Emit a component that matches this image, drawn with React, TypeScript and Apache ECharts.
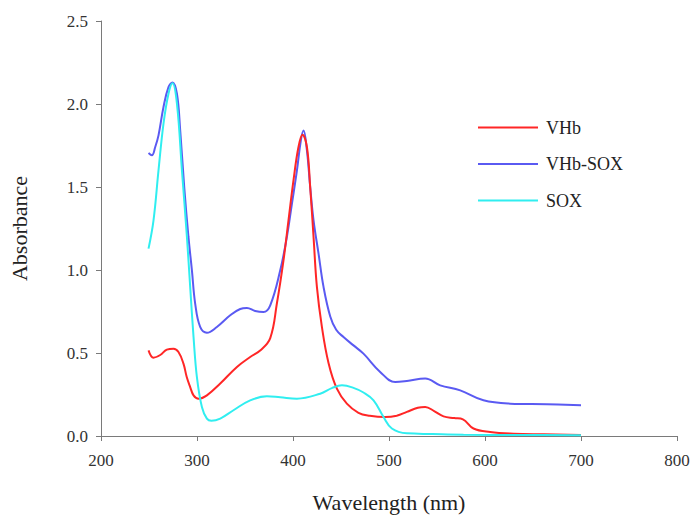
import React, { useEffect, useRef } from "react";
import * as echarts from "echarts";

const xTicks = [200, 300, 400, 500, 600, 700, 800];
const yTicks = [0, 0.5, 1.0, 1.5, 2.0, 2.5];
const seriesNames = ["VHb", "VHb-SOX", "SOX"];

const vhbNm = [249.5, 254.7, 261.7, 268.6, 275.5, 280.7, 285.9, 289.3, 292.9, 296.4, 301.6, 310.3, 324.2, 341.6, 355.4, 365.8, 376.3, 383.2, 390.1, 395.3, 400.5, 405.7, 409.9, 414.5, 417.9, 421.4, 424.9, 430.1, 437, 445.7, 456.1, 468.2, 480, 496, 508, 518.6, 530, 537.7, 547, 556.8, 568, 577, 588, 605.4, 629.7, 661, 700];
const vhbAbs = [0.516, 0.472, 0.488, 0.52, 0.526, 0.506, 0.436, 0.355, 0.295, 0.245, 0.225, 0.245, 0.316, 0.416, 0.476, 0.515, 0.59, 0.798, 1.058, 1.299, 1.54, 1.741, 1.815, 1.741, 1.5, 1.199, 0.898, 0.657, 0.44, 0.285, 0.195, 0.14, 0.122, 0.114, 0.122, 0.145, 0.17, 0.175, 0.15, 0.118, 0.108, 0.1, 0.045, 0.024, 0.014, 0.01, 0.006];

const vhbSoxNm = [249.5, 253, 256.5, 259.9, 265.1, 270.3, 274.5, 279.1, 282.5, 286.7, 291.1, 294.7, 298.1, 303.3, 310.3, 320.7, 334.6, 345, 352, 360.6, 369.3, 376.3, 386.7, 393.6, 398.9, 404.1, 408.2, 411, 414.5, 417.9, 421.4, 426.6, 431.8, 438.8, 445, 452.6, 463, 473.4, 490.8, 506.5, 518.6, 537.7, 553.3, 574.2, 598.4, 626.3, 664.5, 700];
const vhbSoxAbs = [1.705, 1.691, 1.741, 1.811, 1.982, 2.102, 2.13, 2.062, 1.842, 1.5, 1.199, 0.998, 0.798, 0.657, 0.622, 0.657, 0.727, 0.765, 0.771, 0.753, 0.747, 0.787, 0.998, 1.199, 1.4, 1.6, 1.781, 1.84, 1.72, 1.5, 1.299, 1.099, 0.898, 0.72, 0.64, 0.596, 0.546, 0.496, 0.386, 0.325, 0.331, 0.346, 0.305, 0.275, 0.215, 0.195, 0.191, 0.185];

const soxNm = [249.5, 254.7, 259.9, 265.1, 270.3, 274.5, 279.1, 284.3, 289.5, 292.9, 296.4, 299.9, 305.1, 310.3, 315, 324.2, 338, 355.4, 372.8, 386.7, 404.1, 428.3, 441, 451, 463, 473.4, 483.9, 494.3, 503, 518.6, 545, 577.6, 640, 700];
const soxAbs = [1.129, 1.299, 1.6, 1.882, 2.062, 2.125, 2.002, 1.6, 1.199, 0.898, 0.596, 0.355, 0.175, 0.105, 0.092, 0.105, 0.155, 0.215, 0.239, 0.233, 0.225, 0.255, 0.29, 0.305, 0.29, 0.262, 0.215, 0.114, 0.045, 0.016, 0.012, 0.008, 0.006, 0.004];

const colors = ["#ff2626", "#5a5af2", "#30eef0"];

const zip = (xs: number[], ys: number[]) => xs.map((x, i) => [x, ys[i]]);

export default function App() {
  const ref = useRef<HTMLDivElement>(null);
  useEffect(() => {
    if (!ref.current) return;
    const chart = echarts.init(ref.current, null, { renderer: "svg" });
    const font = "serif";
    const dataSets = [zip(vhbNm, vhbAbs), zip(vhbSoxNm, vhbSoxAbs), zip(soxNm, soxAbs)];
    chart.setOption({
      animation: false,
      backgroundColor: "#ffffff",
      textStyle: { fontFamily: font },
      grid: { left: 101, right: 15, top: 21, bottom: 79, containLabel: false, outerBoundsMode: "none" },
      legend: {
        orient: "vertical",
        left: 473,
        top: 113.5,
        icon: "rect",
        itemWidth: 60,
        itemHeight: 2,
        itemGap: 18.5,
        data: seriesNames,
        textStyle: { fontFamily: font, fontSize: 18, color: "#222", padding: [0, 0, 0, 3] },
      },
      xAxis: {
        type: "value",
        min: xTicks[0],
        max: xTicks[xTicks.length - 1],
        interval: 100,
        name: "Wavelength (nm)",
        nameLocation: "middle",
        nameGap: 55,
        nameTextStyle: { fontFamily: font, fontSize: 22, color: "#222" },
        axisLine: { show: true, lineStyle: { color: "#7a7a7a", width: 1 } },
        axisTick: { show: true, inside: false, length: 5, lineStyle: { color: "#7a7a7a" } },
        axisLabel: { margin: 16, fontFamily: font, fontSize: 17, color: "#333" },
        splitLine: { show: false },
      },
      yAxis: {
        type: "value",
        min: yTicks[0],
        max: yTicks[yTicks.length - 1],
        interval: 0.5,
        name: "Absorbance",
        nameLocation: "middle",
        nameGap: 71,
        nameTextStyle: { fontFamily: font, fontSize: 22, color: "#222" },
        axisLine: { show: true, lineStyle: { color: "#7a7a7a", width: 1 } },
        axisTick: { show: true, inside: false, length: 5, lineStyle: { color: "#7a7a7a" } },
        axisLabel: {
          margin: 13,
          fontFamily: font,
          fontSize: 17,
          color: "#333",
          formatter: (v: number) => v.toFixed(1),
        },
        splitLine: { show: false },
      },
      series: seriesNames.map((name, i) => ({
        name,
        type: "line",
        data: dataSets[i],
        symbol: "none",
        smooth: 0.4,
        color: colors[i],
        itemStyle: { color: colors[i] },
        lineStyle: { color: colors[i], width: 2 },
        z: i === 0 ? 3 : i === 1 ? 2 : 4,
      })),
    });
    return () => chart.dispose();
  }, []);
  return (
    <div
      ref={ref}
      style={{ position: "fixed", left: 0, top: 0, width: 692, height: 515, background: "#fff" }}
    />
  );
}
